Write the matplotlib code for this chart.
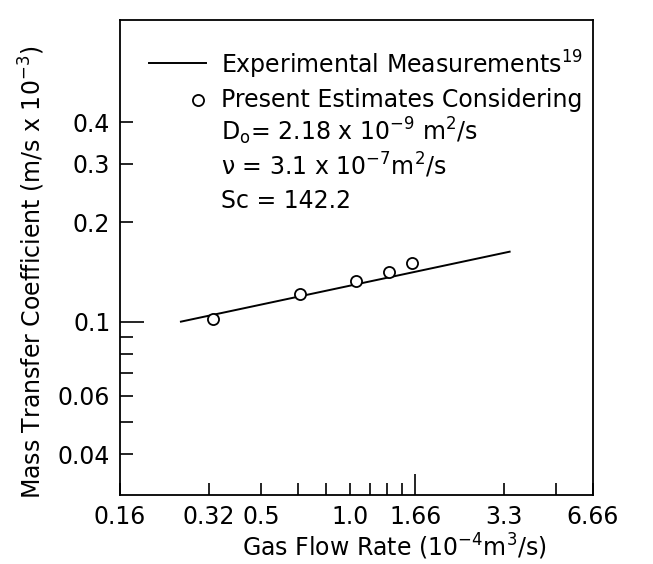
import matplotlib
matplotlib.use("Agg")
import matplotlib.pyplot as plt
from matplotlib.ticker import NullFormatter, FixedLocator

plt.rcParams['font.family'] = ['DejaVu Sans']
plt.rcParams['mathtext.default'] = 'regular'

# ---- data ----
est_flow = [0.343, 0.681, 1.046, 1.363, 1.628]          # 10^-4 m^3/s
est_coef = [0.102, 0.121, 0.133, 0.141, 0.150]          # m/s x 10^-3
exp_flow = [0.268, 3.48]
exp_coef = [0.1002, 0.1628]

x_major = [1/6, 2/6, 3/6, 6/6, 10/6, 20/6, 40/6]
x_major_labels = ["0.16", "0.32", "0.5", "1.0", "1.66", "3.3", "6.66"]
x_minor = [4/6, 5/6, 7/6, 8/6, 9/6, 30/6]
y_major = [0.04, 0.06, 0.1, 0.2, 0.3, 0.4]
y_major_labels = ["0.04", "0.06", "0.1", "0.2", "0.3", "0.4"]
y_minor = [0.05, 0.07, 0.08, 0.09]

FS = 17
fig = plt.figure(figsize=(6.53, 5.64), dpi=100)
ax = fig.add_axes([0.1838, 0.1223, 0.7243, 0.8422])
ax.set_xscale('log')
ax.set_yscale('log')

ax.plot(exp_flow, exp_coef, color='black', lw=1.4)
ax.plot(est_flow, est_coef, linestyle='none', marker='o', markersize=8,
        markerfacecolor='white', markeredgecolor='black', markeredgewidth=1.3)

ax.set_xlim(1/6, 40/6)
ax.set_ylim(0.0301, 0.812)

ax.xaxis.set_major_locator(FixedLocator(x_major))
ax.set_xticklabels(x_major_labels)
ax.xaxis.set_minor_locator(FixedLocator(x_minor))
ax.xaxis.set_minor_formatter(NullFormatter())
ax.yaxis.set_major_locator(FixedLocator(y_major))
ax.set_yticklabels(y_major_labels)
ax.yaxis.set_minor_locator(FixedLocator(y_minor))
ax.yaxis.set_minor_formatter(NullFormatter())

for axis in ('x', 'y'):
    ax.tick_params(axis=axis, which='both', direction='in', length=9, width=1.2,
                   labelsize=FS, pad=7, top=False, right=False)

# longer ticks at 1.66 and 0.1
for t, v in zip(ax.xaxis.get_major_ticks(), x_major):
    if abs(v - 10/6) < 1e-6:
        t.tick1line.set_markersize(15)
for t, v in zip(ax.yaxis.get_major_ticks(), y_major):
    if abs(v - 0.1) < 1e-6:
        t.tick1line.set_markersize(17)

for s in ax.spines.values():
    s.set_linewidth(1.3)

ax.set_xlabel("Gas Flow Rate (10$^{-4}$m$^3$/s)", fontsize=FS)
ax.xaxis.set_label_coords(0.58, -0.078)
ax.set_ylabel("Mass Transfer Coefficient (m/s x 10$^{-3}$)", fontsize=FS)
ax.yaxis.set_label_coords(-0.155, 0.47)

# legend / annotation block
ax.plot([0.061, 0.182], [0.909, 0.909], transform=ax.transAxes, color='black', lw=1.4)
ax.plot([0.165], [0.8316], transform=ax.transAxes, linestyle='none', marker='o',
        markersize=8, markerfacecolor='white', markeredgecolor='black', markeredgewidth=1.3)
tx = 0.2135
ax.text(tx, 0.888, "Experimental Measurements$^{19}$", transform=ax.transAxes,
        fontsize=FS, va='baseline', ha='left')
ax.text(tx, 0.8168, "Present Estimates Considering", transform=ax.transAxes,
        fontsize=FS, va='baseline', ha='left')
ax.text(tx, 0.747, "D$_o$= 2.18 x 10$^{-9}$ m$^2$/s", transform=ax.transAxes,
        fontsize=FS, va='baseline', ha='left')
ax.text(tx, 0.6737, r"$\nu$ = 3.1 x 10$^{-7}$m$^2$/s", transform=ax.transAxes,
        fontsize=FS, va='baseline', ha='left')
ax.text(tx, 0.604, "Sc = 142.2", transform=ax.transAxes,
        fontsize=FS, va='baseline', ha='left')

fig.savefig("out.png", dpi=100, facecolor='white')
